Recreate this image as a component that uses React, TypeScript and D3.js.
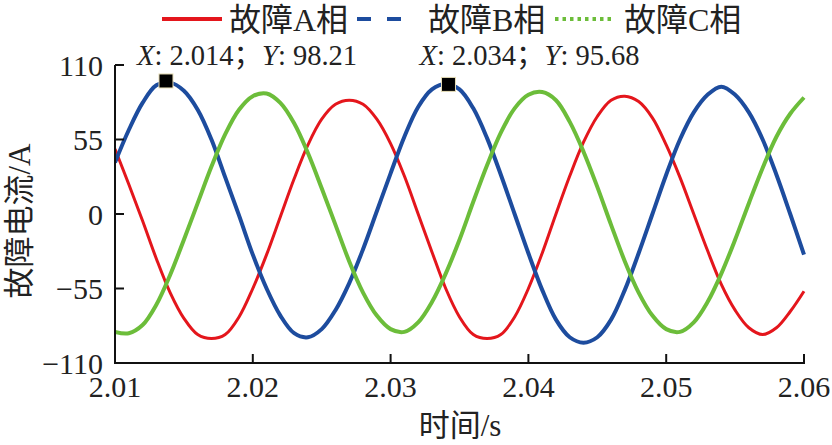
import React from "react";
import * as d3 from "d3";

const times: number[] = Array.from({ length: 51 }, (_, i) => +(2.01 + i * 0.001).toFixed(3));

const phaseA: number[] = [
  48, 22, -5, -33, -58, -77, -89, -92, -89, -76,
  -55, -30, -2, 26, 51, 70, 81, 84, 81, 70,
  52, 28, 0, -28, -55, -76, -89, -92, -89, -76,
  -55, -29, 0, 28, 53, 72, 84, 87, 83, 71,
  51, 27, 0, -27, -52, -71, -84, -89, -84, -72,
  -57,
];
const phaseB: number[] = [
  38, 62, 82, 95, 97, 91, 77, 55, 27, -1,
  -30, -55, -75, -88, -91, -85, -71, -51, -26, 2,
  30, 57, 79, 92, 96, 92, 78, 56, 29, 0,
  -29, -56, -78, -91, -95, -91, -78, -56, -29, 0,
  29, 55, 75, 88, 94, 88, 75, 55, 29, 0,
  -30,
];
const phaseC: number[] = [
  -87, -88, -82, -67, -45, -19, 8, 35, 59, 77,
  87, 89, 82, 67, 45, 19, -8, -35, -58, -75,
  -85, -87, -80, -65, -44, -19, 9, 36, 60, 78,
  88, 90, 84, 68, 46, 20, -8, -35, -58, -75,
  -85, -87, -80, -65, -44, -19, 8, 34, 57, 74,
  86,
];

const xTicks: number[] = [2.01, 2.02, 2.03, 2.04, 2.05, 2.06];
const yTicks: number[] = [-110, -55, 0, 55, 110];
const markers = [
  { x: 2.0137, y: 98.21, label: ["2.014", "98.21"] },
  { x: 2.0342, y: 95.68, label: ["2.034", "95.68"] },
];
const seriesNames = ["故障A相", "故障B相", "故障C相"];

const colors = ["#e4161c", "#1d4c9e", "#6cbd3a"];
const widths = [3, 4, 4];

const FONT = "'Liberation Serif', 'Times New Roman', 'Noto Sans CJK SC', serif";

export default function App() {
  const W = 832, H = 445;
  const left = 115, right = 804, top = 65, bottom = 363;
  const x = d3.scaleLinear().domain([2.01, 2.06]).range([left, right]);
  const y = d3.scaleLinear().domain([-110, 110]).range([bottom, top]);
  const line = d3
    .line<[number, number]>()
    .x((d) => x(d[0]))
    .y((d) => y(d[1]))
    .curve(d3.curveCatmullRom.alpha(0.5));
  const series = [phaseA, phaseB, phaseC];
  const fmtY = (v: number) => (v < 0 ? "\u2212" + Math.abs(v) : String(v));

  return (
    <svg
      width={W}
      height={H}
      style={{ position: "absolute", left: 0, top: 0, background: "#fff" }}
      fontFamily={FONT}
    >
      {/* legend */}
      <g>
        <line x1={162} x2={222} y1={19} y2={19} stroke={colors[0]} strokeWidth={4} />
        <text x={229} y={31} fontSize={32} fill="#222">{seriesNames[0]}</text>
        <line x1={357} x2={415} y1={19} y2={19} stroke={colors[1]} strokeWidth={4} strokeDasharray="14 16" />
        <text x={428} y={31} fontSize={32} fill="#222">{seriesNames[1]}</text>
        <line x1={555} x2={615} y1={19} y2={19} stroke={colors[2]} strokeWidth={4} strokeDasharray="3.5 4" />
        <text x={624} y={31} fontSize={32} fill="#222">{seriesNames[2]}</text>
      </g>

      {/* curves */}
      <defs>
        <clipPath id="clip">
          <rect x={left} y={top - 20} width={right - left + 2} height={bottom - top + 20} />
        </clipPath>
      </defs>
      <g clipPath="url(#clip)">
        {series.map((vals, i) => (
          <path
            key={i}
            d={line(times.map((t, k) => [t, vals[k]] as [number, number])) || ""}
            fill="none"
            stroke={colors[i]}
            strokeWidth={widths[i]}
            strokeLinejoin="round"
          />
        ))}
      </g>

      {/* axes */}
      <g stroke="#111" strokeWidth={2} fill="none">
        <line x1={left} x2={left} y1={top} y2={bottom + 1} />
        <line x1={left - 1} x2={right + 1} y1={bottom} y2={bottom} />
        {yTicks.map((v) => (
          <line key={v} x1={left} x2={left + 9} y1={y(v)} y2={y(v)} />
        ))}
        {xTicks.map((v) => (
          <line key={v} x1={x(v)} x2={x(v)} y1={bottom} y2={bottom - 9} />
        ))}
      </g>
      <g fontSize={30} fill="#222">
        {yTicks.map((v) => (
          <text key={v} x={103} y={y(v)} dy="0.35em" textAnchor="end">{fmtY(v)}</text>
        ))}
        {xTicks.map((v) => (
          <text key={v} x={x(v)} y={397} textAnchor="middle">{v.toFixed(2)}</text>
        ))}
      </g>
      <g fontSize={31} fill="#222">
        <text x={460} y={436} textAnchor="middle">时间/s</text>
        <text transform={`translate(30, ${221}) rotate(-90)`} textAnchor="middle">故障电流/A</text>
      </g>

      {/* data tips */}
      {markers.map((m, i) => (
        <g key={i}>
          <rect x={x(m.x) - 7} y={y(m.y) - 7} width={14} height={14} fill="#000" stroke="#e8dfb8" strokeWidth={1} />
          <text x={x(m.x) - 29} y={65} fontSize={28.5} fill="#222">
            <tspan fontStyle="italic">X</tspan>
            <tspan>{": " + m.label[0] + "；"}</tspan>
            <tspan fontStyle="italic">Y</tspan>
            <tspan>{": " + m.label[1]}</tspan>
          </text>
        </g>
      ))}
    </svg>
  );
}
